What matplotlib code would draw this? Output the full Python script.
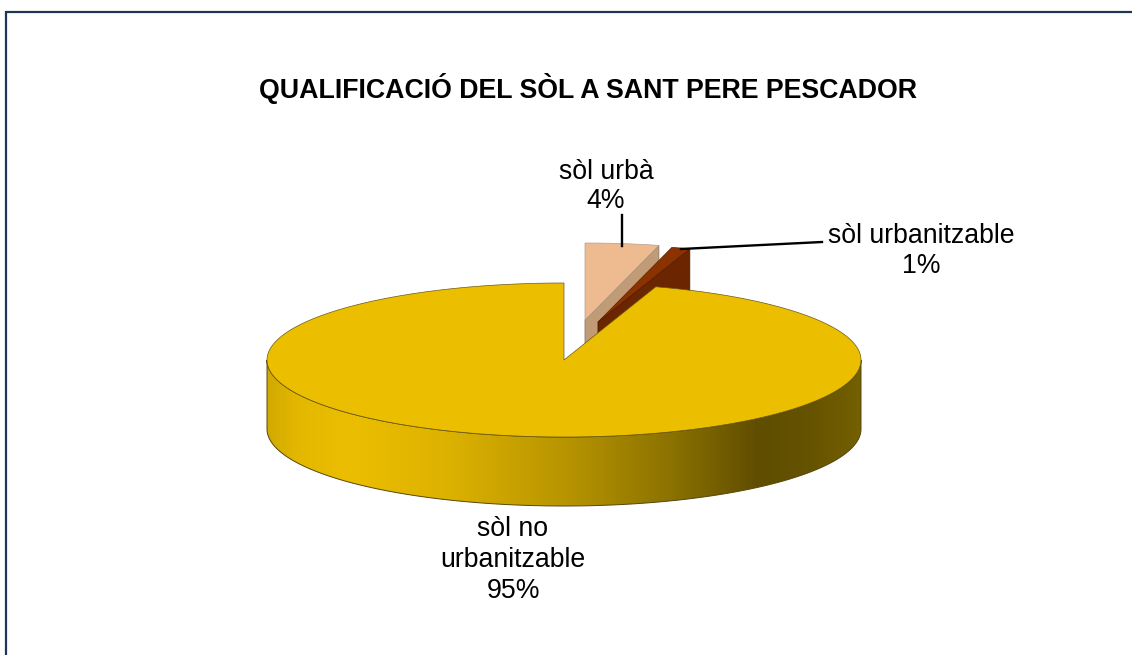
import numpy as np
import matplotlib
matplotlib.use('Agg')
import matplotlib.pyplot as plt
from matplotlib.colors import LinearSegmentedColormap
from matplotlib.patches import Polygon

plt.rcParams['font.family'] = ['Liberation Sans', 'DejaVu Sans']

title = 'QUALIFICACIÓ DEL SÒL A SANT PERE PESCADOR'
categories = ['sòl urbà', 'sòl urbanitzable', 'sòl no urbanitzable']
values = [4, 1, 95]
top_colors = ['#EDBB8F', '#8B3300', '#EBBE00']
side_colors = ['#C09B75', '#6B2500', '#6B5700']

# pie geometry, in pixels of the picture
rx, ry, depth = 297, 77, 69
centre = (564, 360)
offsets = [(21, -40), (34, -38), (0, 0)]

fig = plt.figure(figsize=(11.32, 6.55), dpi=100)
ax = fig.add_axes([0, 0, 1, 1])
ax.set_xlim(0, 1132)
ax.set_ylim(655, 0)
ax.axis('off')

# frame, only left and top are inside the picture
ax.plot([6, 6, 1132], [655, 12, 12], color='#1F3556', lw=1.6, solid_joinstyle='miter')


def rim(a0, a1, cx, cy, n=200):
    # angles clockwise from the top, degrees
    t = np.radians(np.linspace(a0, a1, n))
    return np.column_stack([cx + rx * np.sin(t), cy - ry * np.cos(t)])


edges = np.cumsum([0] + values) * 3.6

# small slices: cut face first, then the top
for i in range(2):
    cx = centre[0] + offsets[i][0]
    cy = centre[1] + offsets[i][1]
    a0, a1 = edges[i], edges[i + 1]
    p = rim(a1, a1, cx, cy, 1)[0]
    face = [(cx, cy), p, (p[0], p[1] + depth), (cx, cy + depth)]
    ax.add_patch(Polygon(face, fc=side_colors[i], ec='#8a7a68' if i == 0 else '#4a1a00', lw=0.6, zorder=2 + i))
    top = np.vstack([[(cx, cy)], rim(a0, a1, cx, cy)])
    ax.add_patch(Polygon(top, fc=top_colors[i], ec='#b0a090' if i == 0 else '#5a2000', lw=0.5, zorder=2 + i))

# wall of the big slice with the shading along x
wall_cmap = LinearSegmentedColormap.from_list('wall', [
    (0.0, '#D2AA00'), (0.05, '#E4B800'), (0.14, '#EBBE00'), (0.3, '#DDB200'),
    (0.5, '#B89500'), (0.68, '#8C7200'), (0.83, '#5F4D00'), (0.92, '#665300'), (1.0, '#736000')])
lo = rim(90, 270, centre[0], centre[1])
wall = np.vstack([lo, lo[::-1] + [0, depth]])
wall_patch = Polygon(wall, fc='none', ec='#55470a', lw=0.7, zorder=5)
ax.add_patch(wall_patch)
grad = ax.imshow(np.linspace(0, 1, 300).reshape(1, -1), cmap=wall_cmap, aspect='auto',
                 extent=(centre[0] - rx, centre[0] + rx, centre[1] + ry + depth, centre[1] - ry),
                 zorder=4, interpolation='bilinear')
grad.set_clip_path(wall_patch)
ax.set_xlim(0, 1132)
ax.set_ylim(655, 0)

top = np.vstack([[centre], rim(edges[2], edges[3], centre[0], centre[1], 600)])
ax.add_patch(Polygon(top, fc=top_colors[2], ec='#6b5a10', lw=0.5, zorder=6))

# leader lines
ax.plot([622, 622], [215, 246], color='black', lw=1.7, zorder=8)
ax.plot([681, 822], [249, 242], color='black', lw=1.7, zorder=8)

ax.text(588, 88, title, fontsize=19.25, fontweight='bold', ha='center', va='center')
ax.text(606, 186.5, f'{categories[0]}\n{values[0]}%', fontsize=19.2, ha='center', va='center', linespacing=1.18)
ax.text(921, 251, f'{categories[1]}\n{values[1]}%', fontsize=19.2, ha='center', va='center', linespacing=1.18)
ax.text(513, 560, 'sòl no\nurbanitzable\n' + f'{values[2]}%', fontsize=19.2, ha='center', va='center', linespacing=1.26)

fig.savefig('out.png', dpi=100, facecolor='white')
